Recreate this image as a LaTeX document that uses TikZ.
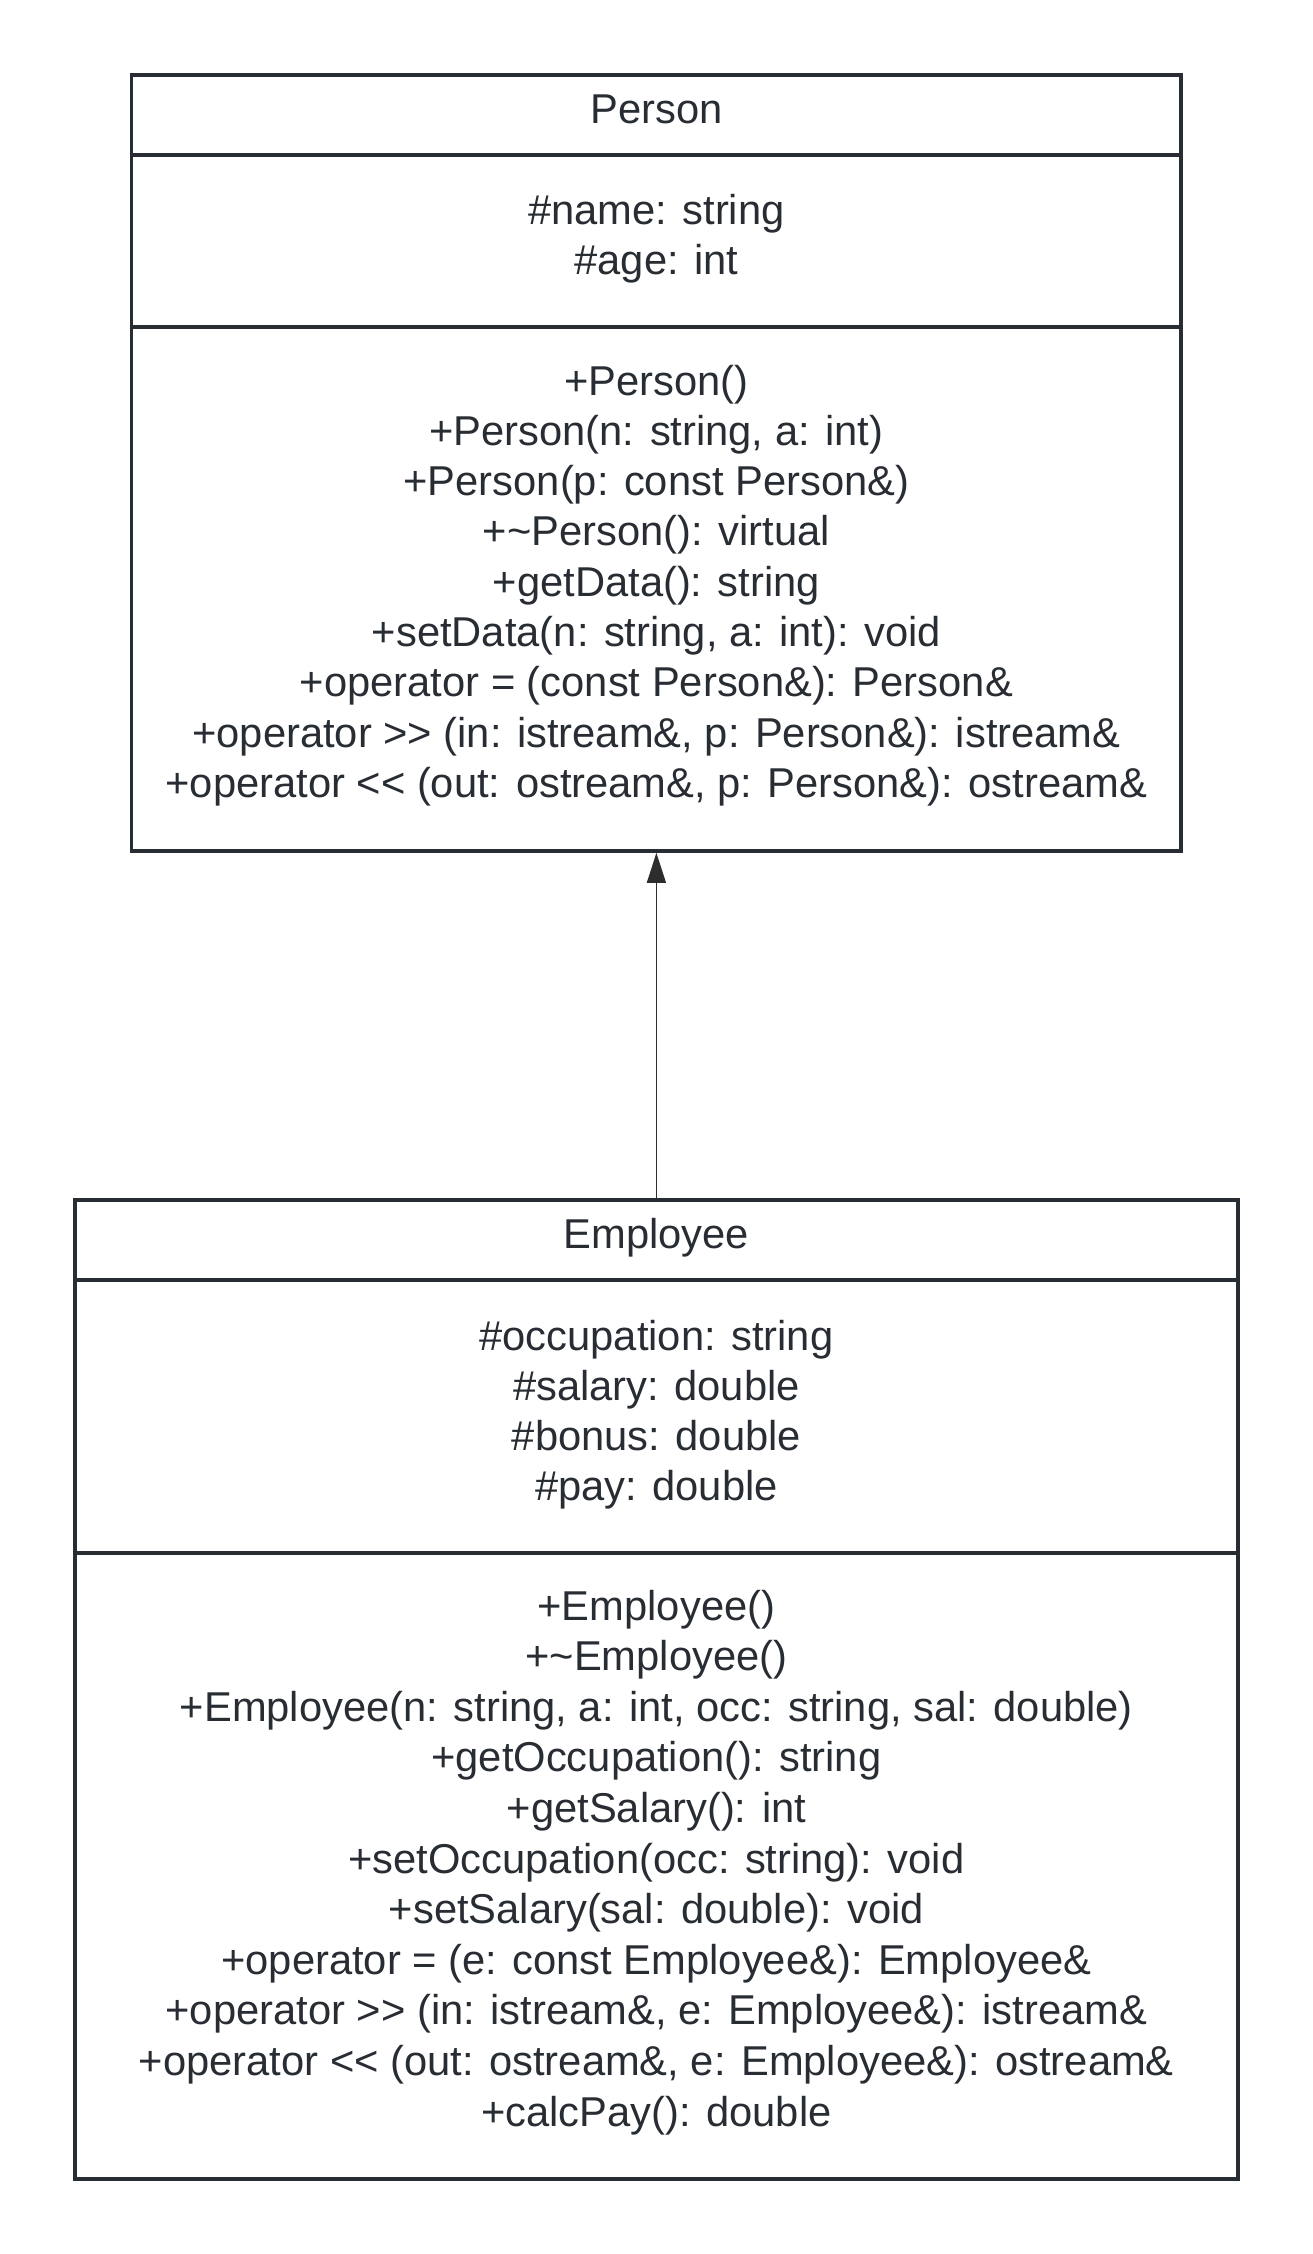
\documentclass[tikz,border=0pt]{standalone}
\usepackage{fontspec}
\newfontfamily\umlfont{Liberation Sans}
\usetikzlibrary{arrows.meta}
\definecolor{ink}{RGB}{40,44,51}
\definecolor{arrowink}{RGB}{45,45,45}
\begin{document}
\begin{tikzpicture}[x=1pt,y=-1pt,
  classbox/.style={draw=ink, line width=3.7pt, rectangle, inner sep=0pt},
  divider/.style={draw=ink, line width=3.7pt},
  txt/.style={text=ink, anchor=base, inner sep=0pt, font=\umlfont\fontsize{41.7}{50}\selectfont},
  inherit/.style={draw=arrowink, line width=1.4pt, -{Triangle[width=19pt,length=30pt]}}]
\useasboundingbox[fill=white] (0,0) rectangle (1313,2254);
% Person
\node[classbox, minimum width=1049.8pt, minimum height=776pt] (person) at (656.4,463) {};
\draw[divider] (person.west |- 0,155.3) -- (person.east |- 0,155.3);
\draw[divider] (person.west |- 0,326.7) -- (person.east |- 0,326.7);
\node[txt] (ptitle) at (656.4,123.3) {Person};
\foreach \t [count=\i] in {{\#name: string},{\#age: int}}
  \node[txt] (pa\i) at (656.4,{224+50.3*(\i-1)}) {\t};
\foreach \t [count=\i] in {{+Person()},{+Person(n: string, a: int)},{+Person(p: const Person\&)},{+\textasciitilde Person(): virtual},{+getData(): string},{+setData(n: string, a: int): void},{+operator = (const Person\&): Person\&},{+operator >> (in: istream\&, p: Person\&): istream\&},{+operator << (out: ostream\&, p: Person\&): ostream\&}}
  \node[txt] (pm\i) at (656.4,{395+50.3*(\i-1)}) {\t};
% Employee
\node[classbox, minimum width=1162.8pt, minimum height=978.5pt] (employee) at (656.4,1689.45) {};
\draw[divider] (employee.west |- 0,1280.3) -- (employee.east |- 0,1280.3);
\draw[divider] (employee.west |- 0,1552.8) -- (employee.east |- 0,1552.8);
\node[txt] (etitle) at (656.4,1248) {Employee};
\foreach \t [count=\i] in {{\#occupation: string},{\#salary: double},{\#bonus: double},{\#pay: double}}
  \node[txt] (ea\i) at (656.4,{1350+50.3*(\i-1)}) {\t};
\foreach \t [count=\i] in {{+Employee()},{+\textasciitilde Employee()},{+Employee(n: string, a: int, occ: string, sal: double)},{+getOccupation(): string},{+getSalary(): int},{+setOccupation(occ: string): void},{+setSalary(sal: double): void},{+operator = (e: const Employee\&): Employee\&},{+operator >> (in: istream\&, e: Employee\&): istream\&},{+operator << (out: ostream\&, e: Employee\&): ostream\&},{+calcPay(): double}}
  \node[txt] (em\i) at (656.4,{1620+50.6*(\i-1)}) {\t};
% inheritance
\draw[inherit] (employee.north) -- (person.south);
\end{tikzpicture}
\end{document}
